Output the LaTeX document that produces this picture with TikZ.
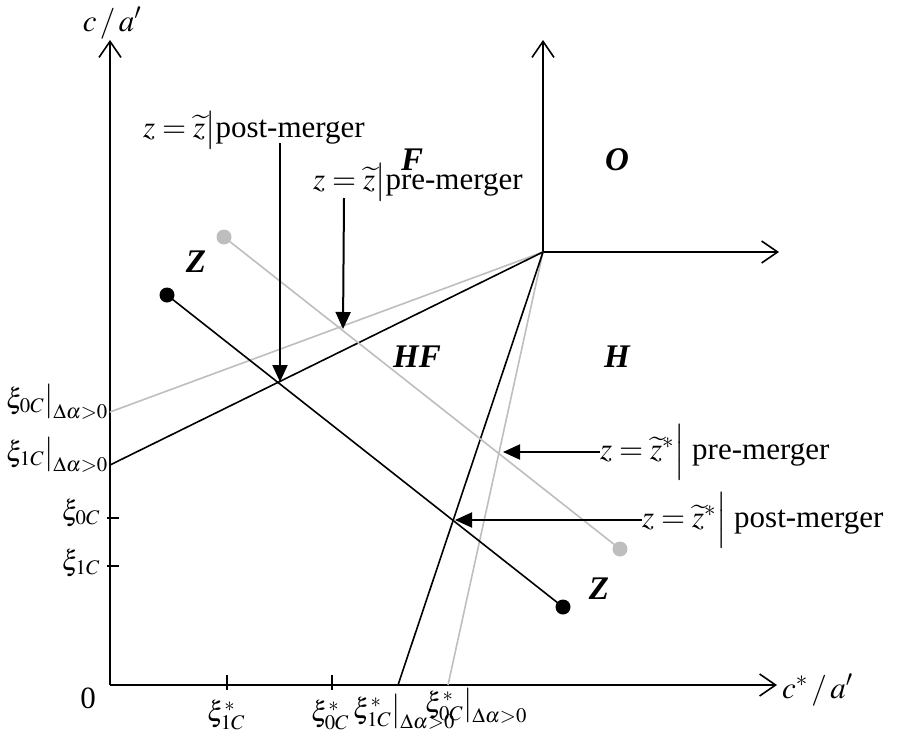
\documentclass[tikz,border=0pt]{standalone}
\usepackage{mathptmx}
\usepackage{fontspec}
\setmainfont{Liberation Serif}
\usetikzlibrary{arrows.meta}
\definecolor{lineGray}{RGB}{190,190,190}

\begin{document}
\begin{tikzpicture}[x=1pt, y=-1pt,
    font=\fontsize{31}{36}\selectfont,
    axis/.style={line width=2pt, -{Straight Barb[length=16pt,width=22pt,line width=1.6pt]}},
    tick/.style={line width=1.6pt},
    blk/.style={line width=1.6pt, black},
    gry/.style={line width=1.6pt, lineGray},
    ptr/.style={line width=2pt, -{Triangle[length=17pt,width=15pt]}},
    dotb/.style={circle, fill=black, inner sep=0pt, minimum size=15pt},
    dotg/.style={circle, fill=lineGray, inner sep=0pt, minimum size=15pt},
    reg/.style={font=\fontsize{33}{38}\selectfont\bfseries\itshape},
    lbl/.style={inner sep=0pt},
    axl/.style={inner sep=0pt, font=\fontsize{28}{32}\selectfont}
  ]
  \useasboundingbox (0,0) rectangle (901,742);

  % main axes
  \coordinate (o)    at (110,685);
  \coordinate (ytop) at (110,40);
  \coordinate (xend) at (777,685);
  \draw[axis] (o) -- (ytop);
  \draw[axis] (o) -- (xend);
  \node[lbl] (ylab) at (112,23) {$c\,/\,a'$};
  \node[lbl, anchor=west] (xlab) at (782,690) {$c^*\,/\,a'$};
  \node[lbl] (zero) at (88,698) {0};

  % second pair of axes
  \coordinate (q)     at (543,252);
  \coordinate (qtop)  at (543,40);
  \coordinate (qend)  at (779,252);
  \draw[axis] (q) -- (qtop);
  \draw[axis] (q) -- (qend);

  % ticks
  \draw[tick] (107,518) -- (119,518);
  \draw[tick] (107,566) -- (119,566);
  \draw[tick] (227,675) -- (227,690);
  \draw[tick] (332,675) -- (332,690);

  % boundary lines
  \coordinate (g0) at (110,412);
  \coordinate (b1) at (110,465);
  \coordinate (g0s) at (448,685);
  \coordinate (b1s) at (398,685);
  \draw[gry] (q) -- (g0);
  \draw[gry] (q) -- (g0s);
  \draw[blk] (q) -- (b1);
  \draw[blk] (q) -- (b1s);

  % Z lines
  \node[dotg] (zga) at (224,237) {};
  \node[dotg] (zgb) at (620,549) {};
  \draw[gry] (zga.center) -- (zgb.center);
  \node[dotb] (zba) at (167,295) {};
  \node[dotb] (zbb) at (563,607) {};
  \draw[blk] (zba.center) -- (zbb.center);

  % region labels
  \node[reg] (rF)  at (412,160) {F};
  \node[reg] (rO)  at (617,160) {O};
  \node[reg] (rHF) at (417,357) {HF};
  \node[reg] (rH)  at (617,357) {H};
  \node[reg] (rZa) at (196,262) {Z};
  \node[reg] (rZb) at (599,589) {Z};

  % axis labels
  \node[axl, anchor=east] (l0d) at (108,402) {$\xi_{0C}\big|_{\Delta\alpha>0}$};
  \node[axl, anchor=east] (l1d) at (108,455) {$\xi_{1C}\big|_{\Delta\alpha>0}$};
  \node[axl, anchor=east] (l0)  at (100,513) {$\xi_{0C}$};
  \node[axl, anchor=east] (l1)  at (100,563) {$\xi_{1C}$};
  \node[axl, anchor=north] (s1)  at (226,700) {$\xi^*_{1C}$};
  \node[axl, anchor=north] (s0)  at (330,700) {$\xi^*_{0C}$};
  \node[axl, anchor=north west] (s1d) at (353,694) {$\xi^*_{1C}\big|_{\Delta\alpha>0}$};
  \node[axl, anchor=north west] (s0d) at (425,688) {$\xi^*_{0C}\big|_{\Delta\alpha>0}$};

  % pointers
  \node[lbl, anchor=west] (tpost) at (143,130) {$z=\widetilde{z}\big|$post-merger};
  \node[lbl, anchor=west] (tpre)  at (313,182) {$z=\widetilde{z}\big|$pre-merger};
  \node[lbl, anchor=west] (tspre)  at (600,452) {$z=\widetilde{z}^*\Big|$ pre-merger};
  \node[lbl, anchor=west] (tspost) at (642,520) {$z=\widetilde{z}^*\Big|$ post-merger};
  \coordinate (apost) at (280,382);
  \coordinate (apre)  at (343,329);
  \coordinate (aspre) at (503,452);
  \coordinate (aspost) at (455,520);
  \draw[ptr] (280,143) -- (apost);
  \draw[ptr] (344,198) -- (apre);
  \draw[ptr] (tspre.west) -- (aspre);
  \draw[ptr] (tspost.west) -- (aspost);
\end{tikzpicture}
\end{document}
